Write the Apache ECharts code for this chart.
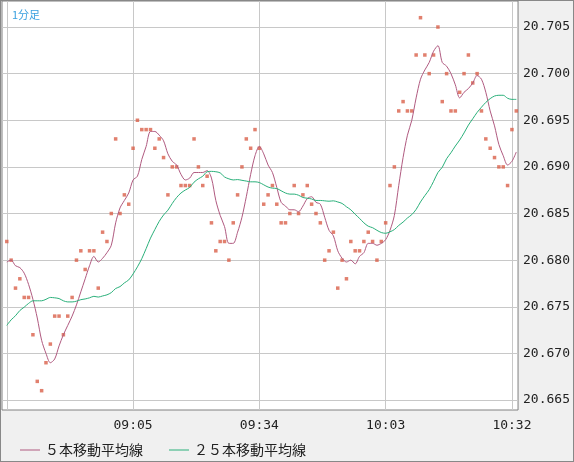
<!DOCTYPE html>
<html><head><meta charset="utf-8">
<script src="https://cdn.jsdelivr.net/npm/echarts@6/dist/echarts.min.js"></script>
<style>html,body{margin:0;padding:0;background:#f0f0f0}#c{width:574px;height:462px;box-sizing:border-box;border:1px solid #888}</style>
</head><body><div id="c"></div>
<script>
// minutes since midnight for each 1-minute bar
const startMinute = 516; // 08:36
const prices = [20.682,20.680,20.677,20.678,20.676,20.676,20.672,20.667,20.666,20.669,
20.671,20.674,20.674,20.672,20.674,20.676,20.680,20.681,20.679,20.681,
20.681,20.677,20.683,20.682,20.685,20.693,20.685,20.687,20.686,20.692,
20.695,20.694,20.694,20.694,20.692,20.693,20.691,20.687,20.690,20.690,
20.688,20.688,20.688,20.693,20.690,20.688,20.689,20.684,20.681,20.682,
20.682,20.680,20.684,20.687,20.690,20.693,20.692,20.694,20.692,20.686,
20.687,20.688,20.686,20.684,20.684,20.685,20.688,20.685,20.687,20.688,
20.686,20.685,20.684,20.680,20.681,20.683,20.677,20.680,20.678,20.682,
20.681,20.681,20.682,20.683,20.682,20.680,20.682,20.684,20.688,20.690,
20.696,20.697,20.696,20.696,20.702,20.706,20.702,20.700,20.702,20.705,
20.697,20.700,20.696,20.696,20.698,20.700,20.702,20.699,20.700,20.696,
20.693,20.692,20.691,20.690,20.690,20.688,20.694,20.696];
// earlier bars (before the visible window), used only for the moving averages
const history = [20.665,20.666,20.664,20.667,20.666,20.665,20.667,20.666,20.665,20.666,
20.675,20.676,20.678,20.677,20.676,20.678,20.677,20.677,20.678,20.677,
20.679,20.680,20.679,20.679];
const xTicks = [516,545,574,603,632];
const yTicks = [20.665,20.670,20.675,20.680,20.685,20.690,20.695,20.700,20.705];
const legendNames = ['５本移動平均線','２５本移動平均線'];

const all = history.concat(prices);
function ma(n){const out=[];for(let i=0;i<prices.length;i++){const j=i+history.length;let s=0;for(let k=j-n+1;k<=j;k++)s+=all[k];out.push([startMinute+i,+(s/n).toFixed(5)]);}return out;}
const pts = prices.map((p,i)=>[startMinute+i,p]);
const fmtT=v=>{const h=Math.floor(v/60),m=v%60;return String(h).padStart(2,'0')+':'+String(m).padStart(2,'0');};
const chart=echarts.init(document.getElementById('c'));
chart.setOption({
  animation:false,backgroundColor:'#f0f0f0',
  title:{text:'1分足',left:6,top:3,textStyle:{fontSize:11,fontWeight:'normal',color:'#3aa0e0',fontFamily:'Noto Sans CJK JP'}},
  grid:{left:1,top:0,width:520,height:409,show:true,backgroundColor:'#fff',borderColor:'#808080',borderWidth:1},
  legend:{left:14,top:437,itemWidth:20,itemHeight:1,itemGap:26,icon:'rect',
    textStyle:{fontSize:14,color:'#222',fontFamily:'Noto Sans CJK JP'},data:legendNames},
  xAxis:{type:'value',min:514.9,max:633.4,
    axisLine:{show:false},
    axisTick:{show:false,customValues:xTicks},
    splitLine:{show:true,lineStyle:{color:'#c8c8c8',width:1}},
    axisLabel:{customValues:xTicks.slice(1),formatter:fmtT,margin:9,fontSize:13,color:'#222',fontFamily:'DejaVu Sans Mono'}},
  yAxis:{type:'value',position:'right',min:20.66393,max:20.70779,
    axisLine:{show:false},
    axisTick:{show:false,customValues:yTicks},
    splitLine:{show:true,lineStyle:{color:'#c8c8c8',width:1}},
    axisLabel:{customValues:yTicks,formatter:v=>v.toFixed(3),margin:5,fontSize:13,color:'#222',fontFamily:'DejaVu Sans Mono'}},
  series:[
    {type:'scatter',data:pts,symbol:'rect',symbolSize:3.5,itemStyle:{color:'#d9604a'},silent:true},
    {name:legendNames[0],type:'line',data:ma(5),smooth:0.3,showSymbol:false,lineStyle:{color:'#b05a80',width:1},itemStyle:{color:'#b05a80'}},
    {name:legendNames[1],type:'line',data:ma(25),smooth:0.3,showSymbol:false,lineStyle:{color:'#2ab07a',width:1},itemStyle:{color:'#2ab07a'}}
  ]
});
</script></body></html>
